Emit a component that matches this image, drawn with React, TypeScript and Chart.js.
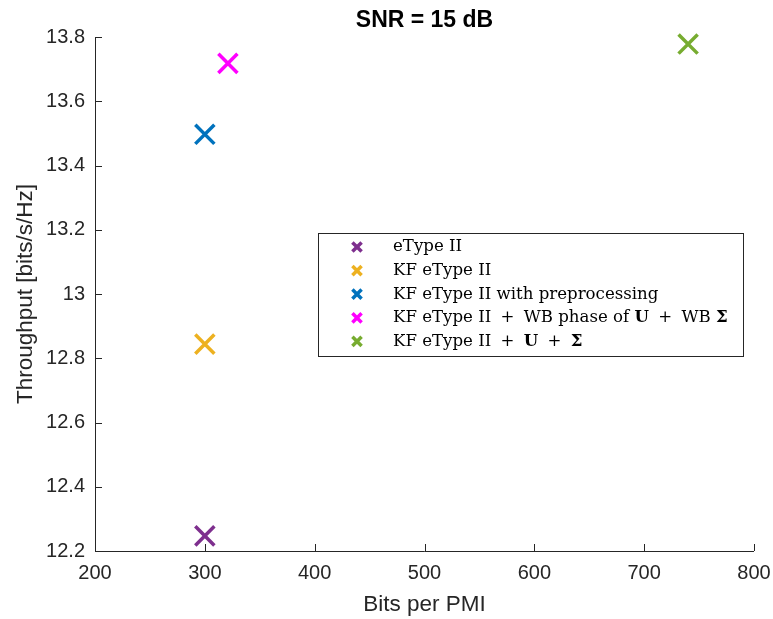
import React, { useEffect, useRef } from "react";
import { Chart, registerables } from "chart.js";

Chart.register(...registerables);

// ---- data ----
const seriesLabels = [
  "eType II",
  "KF eType II",
  "KF eType II with preprocessing",
  "KF eType II + WB phase of **U** + WB **Σ**",
  "KF eType II + **U** + **Σ**",
];
const seriesColors = ["#7E2F8E", "#EDB120", "#0072BD", "#FF00FF", "#77AC30"];
const bitsPerPMI = [300, 300, 300, 321, 740];
const throughput = [12.247, 12.844, 13.497, 13.718, 13.778];
const xTicks = [200, 300, 400, 500, 600, 700, 800];
const yTicks = [12.2, 12.4, 12.6, 12.8, 13, 13.2, 13.4, 13.6, 13.8];
const chartTitle = "SNR = 15 dB";
const xAxisTitle = "Bits per PMI";
const yAxisTitle = "Throughput [bits/s/Hz]";

const AXIS_COLOR = "#262626";
const SANS = "'Liberation Sans', Arial, Helvetica, sans-serif";
const SERIF = "'DejaVu Serif', serif";

function drawCrossRot(ctx: CanvasRenderingContext2D, x: number, y: number, r: number, lw: number, color: string) {
  const o = r * Math.SQRT1_2;
  ctx.save();
  ctx.strokeStyle = color;
  ctx.lineWidth = lw;
  ctx.beginPath();
  ctx.moveTo(x - o, y - o);
  ctx.lineTo(x + o, y + o);
  ctx.moveTo(x - o, y + o);
  ctx.lineTo(x + o, y - o);
  ctx.stroke();
  ctx.restore();
}

const decorPlugin = {
  id: "matlabDecor",
  afterDraw(chart: any) {
    const ctx: CanvasRenderingContext2D = chart.ctx;
    const { left, right, top, bottom } = chart.chartArea;
    const xs = chart.scales.x;
    const ys = chart.scales.y;
    ctx.save();
    // axes lines
    ctx.strokeStyle = AXIS_COLOR;
    ctx.lineWidth = 1;
    ctx.beginPath();
    ctx.moveTo(Math.round(left) + 0.5, top);
    ctx.lineTo(Math.round(left) + 0.5, Math.round(bottom) + 0.5);
    ctx.lineTo(right, Math.round(bottom) + 0.5);
    ctx.stroke();
    // inward ticks
    const tl = 7;
    ctx.beginPath();
    xTicks.forEach((v) => {
      const px = Math.round(xs.getPixelForValue(v)) + 0.5;
      ctx.moveTo(px, bottom);
      ctx.lineTo(px, bottom - tl);
    });
    yTicks.forEach((v) => {
      const py = Math.round(ys.getPixelForValue(v)) + 0.5;
      ctx.moveTo(left, py);
      ctx.lineTo(left + tl, py);
    });
    ctx.stroke();

    // title
    ctx.fillStyle = "#000000";
    ctx.font = `bold 23px ${SANS}`;
    ctx.textAlign = "center";
    ctx.textBaseline = "alphabetic";
    ctx.fillText(chartTitle, (left + right) / 2, 27);

    // axis titles
    ctx.fillStyle = AXIS_COLOR;
    ctx.font = `22.5px ${SANS}`;
    ctx.fillText(xAxisTitle, (left + right) / 2, 611);
    ctx.save();
    ctx.translate(32, (top + bottom) / 2);
    ctx.rotate(-Math.PI / 2);
    ctx.fillText(yAxisTitle, 0, 0);
    ctx.restore();

    // legend
    const bx = 318.5, by = 233.5, bw = 425, bh = 123;
    ctx.fillStyle = "#ffffff";
    ctx.fillRect(bx, by, bw, bh);
    ctx.strokeStyle = AXIS_COLOR;
    ctx.lineWidth = 1;
    ctx.strokeRect(bx, by, bw, bh);
    const rowH = 23.6;
    const opGap = 4;
    chart.data.datasets.forEach((ds: any, i: number) => {
      const cy = by + 13.5 + i * rowH;
      drawCrossRot(ctx, 357, cy, 6.5, 3.5, ds.borderColor);
      let tx = 393;
      ctx.textAlign = "left";
      ctx.textBaseline = "middle";
      ctx.fillStyle = "#000000";
      const parts = String(ds.label).split("**");
      parts.forEach((p: string, k: number) => {
        ctx.font = (k % 2 === 1 ? "bold " : "") + `16.6px ${SERIF}`;
        const pieces = p.split("+");
        pieces.forEach((piece: string, j: number) => {
          if (j > 0) {
            tx += opGap;
            ctx.fillText("+", tx, cy);
            tx += ctx.measureText("+").width + opGap;
          }
          if (piece) {
            ctx.fillText(piece, tx, cy);
            tx += ctx.measureText(piece).width;
          }
        });
      });
    });
    ctx.restore();
  },
};

export default function App() {
  const ref = useRef<HTMLCanvasElement | null>(null);
  useEffect(() => {
    if (!ref.current) return;
    const chart = new Chart(ref.current, {
      type: "scatter",
      data: {
        datasets: seriesLabels.map((label, i) => ({
          label,
          data: [{ x: bitsPerPMI[i], y: throughput[i] }],
          borderColor: seriesColors[i],
          backgroundColor: seriesColors[i],
          pointStyle: "crossRot",
          pointRadius: 13.5,
          pointBorderWidth: 3.5,
          showLine: false,
          clip: false as any,
        })),
      },
      plugins: [decorPlugin],
      options: {
        animation: false,
        responsive: false,
        maintainAspectRatio: false,
        layout: { padding: { left: 0, right: 19, top: 37, bottom: 0 } },
        plugins: {
          legend: { display: false },
          title: { display: false },
          tooltip: { enabled: false },
        },
        scales: {
          x: {
            type: "linear",
            min: 200,
            max: 800,
            afterBuildTicks: (s: any) => {
              s.ticks = xTicks.map((v) => ({ value: v }));
            },
            afterFit: (s: any) => {
              s.height = 68;
              s.paddingLeft = 0;
              s.paddingRight = 0;
            },
            grid: { display: false, drawTicks: false },
            border: { display: false },
            ticks: {
              color: AXIS_COLOR,
              font: { family: SANS, size: 20 },
              padding: 10,
              maxRotation: 0,
              callback: (v: any) => String(v),
            },
          },
          y: {
            type: "linear",
            min: 12.2,
            max: 13.8,
            afterBuildTicks: (s: any) => {
              s.ticks = yTicks.map((v) => ({ value: v }));
            },
            afterFit: (s: any) => {
              s.width = 95;
              s.paddingTop = 0;
              s.paddingBottom = 0;
            },
            grid: { display: false, drawTicks: false },
            border: { display: false },
            ticks: {
              color: AXIS_COLOR,
              font: { family: SANS, size: 20 },
              padding: 10,
              callback: (v: any) => String(Math.round(Number(v) * 10) / 10),
            },
          },
        },
      } as any,
    });
    return () => chart.destroy();
  }, []);
  return (
    <div style={{ position: "absolute", left: 0, top: 0, width: 773, height: 619, background: "#fff" }}>
      <canvas ref={ref} width={773} height={619} style={{ width: 773, height: 619, display: "block" }} />
    </div>
  );
}
